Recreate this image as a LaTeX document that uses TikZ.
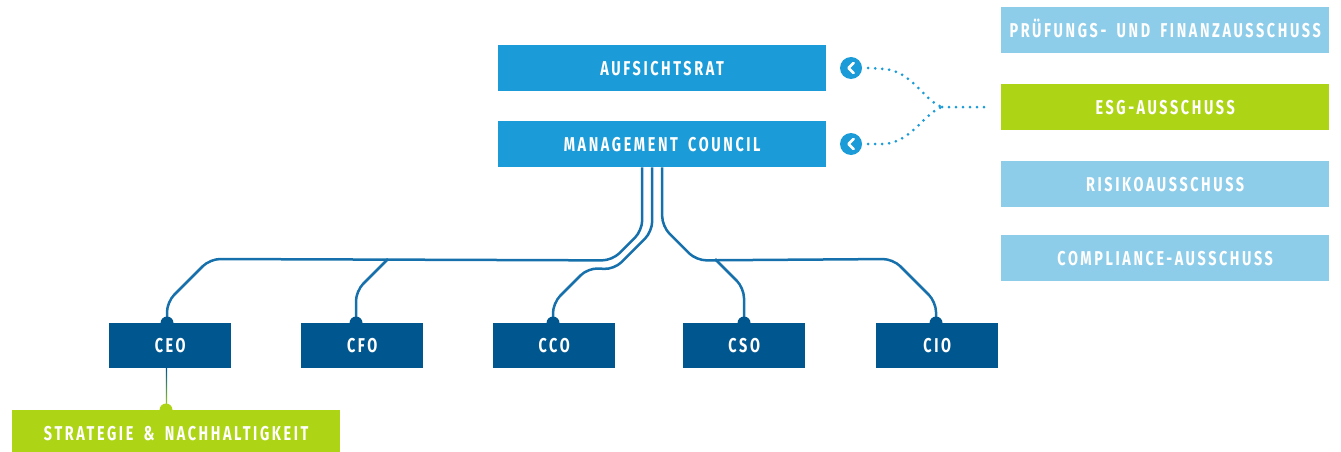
\documentclass[tikz,border=0pt]{standalone}
\usepackage{fontspec}
\setmainfont{Fira Sans}[FakeStretch=0.72,LetterSpace=13,WordSpace=1.7]
\usetikzlibrary{calc}
\definecolor{midblue}{RGB}{27,155,215}
\definecolor{navy}{RGB}{0,87,143}
\definecolor{lightblue}{RGB}{142,205,234}
\definecolor{lime}{RGB}{173,213,22}
\definecolor{linec}{RGB}{22,112,172}
\begin{document}
\begin{tikzpicture}[x=1pt,y=-1pt,
  box/.style={inner sep=0pt, minimum width=328pt, minimum height=46pt, anchor=north west,
    text=white, font=\fontsize{20}{22}\selectfont\bfseries, text height=14pt, text depth=0pt},
  wide/.style={box, fill=midblue},
  side/.style={box, fill=lightblue},
  esgbox/.style={box, fill=lime},
  role/.style={box, fill=navy, minimum width=122pt, minimum height=45pt},
  conn/.style={draw=linec, line width=2.5pt, rounded corners=10pt},
  knob/.style={circle, fill=navy, inner sep=0pt, minimum size=13pt},
  chev/.style={circle, fill=midblue, inner sep=0pt, minimum size=22pt},
  dots/.style={draw=midblue, line width=3pt, line cap=round, dash pattern=on 0pt off 7pt}
]
\useasboundingbox (0,0) rectangle (1341,452);

% top boxes
\node[wide] (auf) at (498,45) {AUFSICHTSRAT};
\node[wide] (mc) at (498,121) {MANAGEMENT COUNCIL};

% committees
\node[side] (pruf) at (1001,7) {PRÜFUNGS- UND FINANZAUSSCHUSS};
\node[esgbox] (esg) at (1001,84) {ESG-AUSSCHUSS};
\node[side] (risk) at (1001,161) {RISIKOAUSSCHUSS};
\node[side] (comp) at (1001,235) {COMPLIANCE-AUSSCHUSS};

% roles
\node[role] (ceo) at (109,323) {CEO};
\node[role] (cfo) at (301,323) {CFO};
\node[role] (cco) at (493,323) {CCO};
\node[role] (cso) at (683,323) {CSO};
\node[role] (cio) at (876,323) {CIO};

\node[box, fill=lime, minimum height=46pt] (strat) at (12,410) {STRATEGIE \& NACHHALTIGKEIT};

% anchor points on role tops
\coordinate (ceoT) at ($(ceo.north west)+(58,0)$);
\coordinate (cfoT) at ($(cfo.north west)+(55,0)$);
\coordinate (ccoT) at ($(cco.north west)+(60,0)$);
\coordinate (csoT) at ($(cso.north west)+(61,0)$);
\coordinate (cioT) at ($(cio.north west)+(60,0)$);

% connectors from management council
\draw[conn] ($(mc.south)+(-20,0)$) -- ++(0,63) -- ++(-30,30) -- (210,259) -- ($(ceoT)+(0,-21)$) -- (ceoT);
\draw[conn] (388,259) -- ($(cfoT)+(0,-32)$) -- (cfoT);
\draw[conn] ($(mc.south)+(-10,0)$) -- ++(0,64) -- ++(-38,38) -- (588,268) -- ($(ccoT)+(0,-20)$) -- (ccoT);
\draw[conn] (mc.south) -- ++(0,59) -- ++(34,34) -- (893,259) -- ($(cioT)+(0,-21)$) -- (cioT);
\draw[conn] (715,259) -- ($(csoT)+(0,-35)$) -- (csoT);

% knobs
\foreach \c in {ceoT,cfoT,ccoT,csoT,cioT} \node[knob] at (\c) {};

% CEO to strategy
\coordinate (stratT) at ($(strat.north west)+(154,0)$);
\shade[top color=navy, bottom color=lime] ($(ceo.south west)+(56.8,0)$) rectangle ($(stratT)+(1.2,0)$);
\node[knob, fill=lime] at (stratT) {};

% committee connectors
\node[chev] (c1) at (851,68) {};
\node[chev] (c2) at (851,144) {};
\foreach \c in {c1,c2}
  \draw[white, line width=2.8pt, line cap=round, line join=round] ($(\c)+(2.5,-5)$) -- ($(\c)+(-2.5,0)$) -- ($(\c)+(2.5,5)$);
\coordinate (junc) at (942,107);
\draw[dots] ($(c1.east)+(6,0)$) -- (884,69) .. controls (912,71) and (924,101) .. (junc);
\draw[dots] ($(c2.east)+(6,0)$) -- (884,144) .. controls (912,142) and (924,113) .. (junc);
\draw[dots] (junc) -- ($(esg.west)+(-16,0)$);
\end{tikzpicture}
\end{document}
